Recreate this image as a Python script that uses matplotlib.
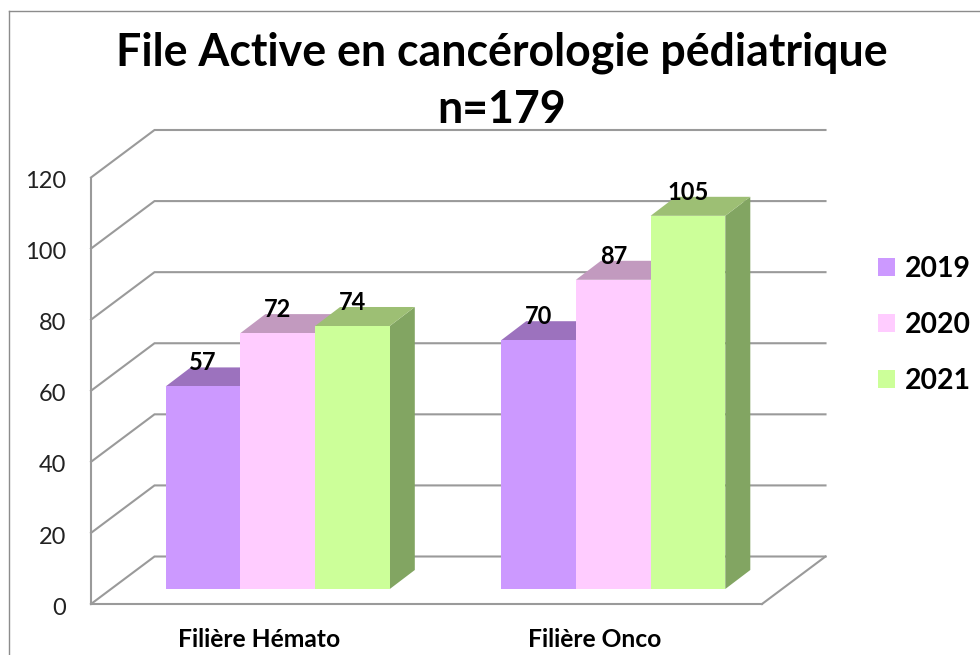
import matplotlib
matplotlib.use('Agg')
import matplotlib.pyplot as plt
from matplotlib.lines import Line2D
from matplotlib.patches import Polygon
from matplotlib.transforms import ScaledTranslation

plt.rcParams['font.family'] = ['Lato', 'DejaVu Sans']

# Data
categories = ['Filière Hémato', 'Filière Onco']
years = ['2019', '2020', '2021']
val_2019 = [57, 70]
val_2020 = [72, 87]
val_2021 = [74, 105]
series = [val_2019, val_2020, val_2021]
yticks = [0, 20, 40, 60, 80, 100, 120]

# Colours: front, top, side
front_cols = ['#CC99FF', '#FFCCFF', '#CCFF99']
top_cols = ['#9C72BE', '#C29ABF', '#9DBF74']
side_cols = ['#7F5FA0', '#B08AAE', '#82A562']
grid_col = '#9A9A9A'

W, H = 980, 655
fig = plt.figure(figsize=(W / 100, H / 100), dpi=100)
ax = fig.add_axes([91 / W, 1 - 604 / H, 671 / W, 426.5 / H])
ax.set_xlim(0, 2)
ax.set_ylim(0, 120)

# Sizes of the fake 3D view, in data units
px_x = 2 / 671
px_y = 120 / 426.5
wall_dx, wall_dy = 63.5 * px_x, 47.5 * px_y
depth_dx, depth_dy = 25 * px_x, 19 * px_y
floor_dx, floor_dy = 14 * px_x, 15 * px_y
shift = 5 * px_x
bar_w = 74.7 * px_x

# Back wall, side wall, floor
for t in yticks:
    ax.plot([0, wall_dx, 2 + wall_dx], [t, t + wall_dy, t + wall_dy],
            color=grid_col, lw=1.5, clip_on=False, zorder=1, solid_joinstyle='miter')
ax.plot([2, 2 + wall_dx], [0, wall_dy], color=grid_col, lw=1.5, clip_on=False, zorder=1)

# Bars
z = 3
for i, vals in enumerate(series):
    for j, v in enumerate(vals):
        x0 = j + 0.5 + floor_dx + shift + (i - 1.5) * bar_w
        x1 = x0 + bar_w
        y0 = floor_dy
        y1 = floor_dy + v
        ax.add_patch(Polygon([(x1, y0), (x1 + depth_dx, y0 + depth_dy),
                              (x1 + depth_dx, y1 + depth_dy), (x1, y1)],
                             fc=side_cols[i], ec='none', clip_on=False, zorder=z))
        ax.add_patch(Polygon([(x0, y1), (x1, y1), (x1 + depth_dx, y1 + depth_dy),
                              (x0 + depth_dx, y1 + depth_dy)],
                             fc=top_cols[i], ec='none', clip_on=False, zorder=z))
    ax.bar([j + 0.5 + floor_dx + shift + (i - 1) * bar_w for j in range(2)], vals,
           width=bar_w, bottom=floor_dy, color=front_cols[i], label=years[i],
           clip_on=False, zorder=z + 0.5)
    for j, v in enumerate(vals):
        xc = j + 0.5 + floor_dx + shift + (i - 1) * bar_w
        ax.annotate(str(v), (xc, floor_dy + v + depth_dy), xytext=(0, -5),
                    textcoords='offset points', ha='center', va='bottom',
                    fontsize=17, fontweight='bold', color='black', zorder=10,
                    annotation_clip=False)
    z += 1

# Axes
ax.patch.set_visible(False)
for s in ['top', 'right']:
    ax.spines[s].set_visible(False)
for s in ['left', 'bottom']:
    ax.spines[s].set_color(grid_col)
    ax.spines[s].set_linewidth(1.5)
    ax.spines[s].set_zorder(2)
ax.set_yticks(yticks)
ax.tick_params(axis='y', length=0, pad=18, labelsize=17, labelcolor='#222222')
for lab in ax.get_yticklabels():
    lab.set_transform(lab.get_transform() + ScaledTranslation(0, -1.5 / 72, fig.dpi_scale_trans))
ax.set_xticks([0.5, 1.5])
ax.set_xticklabels(categories, fontsize=17.7, fontweight='bold')
ax.tick_params(axis='x', length=0, pad=17)

# Title
fig.text(502 / W, 1 - 53 / H, 'File Active en cancérologie pédiatrique', ha='center', va='center',
         fontsize=32.1, fontweight='bold')
fig.text(502 / W, 1 - 110 / H, 'n=179', ha='center', va='center', fontsize=32.1, fontweight='bold')

# Legend
ax.legend(loc='center left', bbox_to_anchor=(878 / W, 1 - 325 / H), bbox_transform=fig.transFigure,
          frameon=False, prop={'size': 20.4, 'weight': 'bold'}, handlelength=0.6, handleheight=0.6,
          labelspacing=1.05, handletextpad=0.35, borderaxespad=0, borderpad=0)

# Chart frame, only top and left show up in the picture
fig.add_artist(Line2D([9 / W, 9 / W], [0, 1 - 11 / H], color='#8C8C8C', lw=1))
fig.add_artist(Line2D([9 / W, 1], [1 - 11 / H, 1 - 11 / H], color='#8C8C8C', lw=1))

plt.savefig('out.png', dpi=100)
